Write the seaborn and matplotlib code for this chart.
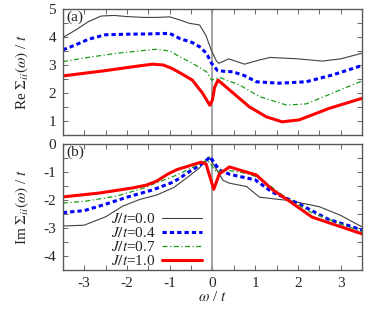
import matplotlib
matplotlib.use("Agg")
import matplotlib.pyplot as plt
import seaborn as sns
from matplotlib.ticker import MultipleLocator

# Re Sigma_ii(omega)/t
re_w_00 = [-3.5, -3.2, -2.9, -2.6, -2.3, -2.0, -1.6, -1.3, -1.0, -0.77, -0.54, -0.3, -0.15, -0.03, 0.09, 0.15, 0.38, 0.75, 1.1, 1.35, 2.0, 2.57, 3.0, 3.5]
re_v_00 = [3.98, 4.25, 4.55, 4.75, 4.77, 4.73, 4.70, 4.70, 4.72, 4.61, 4.49, 4.43, 4.05, 3.54, 3.15, 3.06, 3.22, 3.03, 3.18, 3.27, 3.22, 3.14, 3.22, 3.42]
re_w_04 = [-3.5, -3.2, -2.9, -2.5, -2.0, -1.5, -1.0, -0.77, -0.47, -0.3, -0.14, -0.02, 0.12, 0.3, 0.47, 0.75, 1.03, 1.56, 2.19, 2.8, 3.5]
re_v_04 = [3.54, 3.72, 3.92, 4.08, 4.10, 4.11, 4.13, 3.95, 3.80, 3.65, 3.42, 3.06, 2.80, 2.77, 2.76, 2.62, 2.40, 2.35, 2.40, 2.64, 2.98]
re_w_07 = [-3.5, -3.0, -2.24, -1.6, -1.31, -1.0, -0.77, -0.47, -0.14, -0.02, 0.16, 0.63, 1.10, 1.73, 2.19, 2.80, 3.5]
re_v_07 = [3.12, 3.25, 3.42, 3.52, 3.56, 3.50, 3.30, 3.06, 2.76, 2.46, 2.56, 2.29, 1.87, 1.57, 1.61, 1.99, 2.43]
re_w_10 = [-3.5, -2.5, -1.8, -1.4, -1.15, -0.95, -0.77, -0.47, -0.23, -0.06, 0.0, 0.05, 0.13, 0.4, 0.86, 1.26, 1.63, 2.03, 2.73, 3.5]
re_v_10 = [2.61, 2.80, 2.95, 3.03, 3.0, 2.88, 2.73, 2.46, 1.99, 1.56, 1.75, 2.2, 2.46, 2.11, 1.51, 1.15, 0.97, 1.04, 1.45, 1.81]

# Im Sigma_ii(omega)/t
im_w_00 = [-3.5, -3.0, -2.5, -2.1, -1.7, -1.3, -0.9, -0.55, -0.3, -0.08, 0.09, 0.25, 0.4, 0.8, 1.1, 1.5, 1.8, 2.5, 3.0, 3.5]
im_v_00 = [-2.93, -2.90, -2.60, -2.22, -1.98, -1.82, -1.55, -1.15, -0.85, -0.46, -0.9, -1.3, -1.40, -1.52, -1.90, -1.97, -2.02, -2.24, -2.55, -2.96]
im_w_04 = [-3.5, -3.0, -2.5, -2.0, -1.4, -0.9, -0.5, -0.2, -0.05, 0.16, 0.4, 1.0, 1.4, 2.0, 2.7, 3.5]
im_v_04 = [-2.45, -2.38, -2.15, -1.9, -1.64, -1.35, -0.95, -0.66, -0.46, -0.93, -1.08, -1.28, -1.72, -2.12, -2.68, -3.07]
im_w_07 = [-3.5, -3.0, -2.24, -1.7, -1.31, -0.9, -0.3, -0.12, 0.09, 0.33, 0.8, 1.1, 1.73, 2.33, 3.5]
im_v_07 = [-2.11, -2.05, -1.86, -1.62, -1.39, -1.15, -0.72, -0.57, -0.99, -0.93, -1.05, -1.21, -1.93, -2.46, -3.14]
im_w_10 = [-3.5, -2.64, -1.87, -1.55, -1.31, -1.05, -0.84, -0.27, -0.15, 0.03, 0.16, 0.40, 1.03, 1.41, 1.8, 2.33, 3.5]
im_v_10 = [-1.89, -1.75, -1.57, -1.47, -1.33, -1.08, -0.92, -0.65, -0.71, -1.62, -1.07, -0.82, -1.11, -1.64, -2.04, -2.61, -3.21]

labels = [r"$J/t$=0.0", r"$J/t$=0.4", r"$J/t$=0.7", r"$J/t$=1.0"]

styles = [
    dict(color="0.25", lw=0.8, ls="-"),
    dict(color="#0000ff", lw=2.2, ls=(0, (1.4, 1.0))),
    dict(color="#1a9a1a", lw=0.9, ls=(0, (4, 2, 1, 2))),
    dict(color="#ff0000", lw=2.2, ls="-"),
]

sns.set_style("ticks")
plt.rcParams["font.family"] = ["Liberation Serif", "DejaVu Serif"]
plt.rcParams["mathtext.fontset"] = "stix"

fig = plt.figure(figsize=(3.74, 3.16), dpi=100)
ax_re = fig.add_axes([0.168, 0.5728, 0.800, 0.3987])
ax_im = fig.add_axes([0.168, 0.1456, 0.800, 0.3987])

re_series = [(re_w_00, re_v_00), (re_w_04, re_v_04), (re_w_07, re_v_07), (re_w_10, re_v_10)]
im_series = [(im_w_00, im_v_00), (im_w_04, im_v_04), (im_w_07, im_v_07), (im_w_10, im_v_10)]

for ax in (ax_re, ax_im):
    ax.axvline(0, color="0.55", lw=1.1, zorder=1)

for (w, v), st in zip(re_series, styles):
    sns.lineplot(x=w, y=v, ax=ax_re, **st)
for (w, v), st, lab in zip(im_series, styles, labels):
    sns.lineplot(x=w, y=v, ax=ax_im, label=lab, **st)

ax_re.set_ylim(0.5, 5)
ax_im.set_ylim(-4.5, 0)
ax_re.set_yticks([1, 2, 3, 4, 5])
ax_im.set_yticks([0, -1, -2, -3, -4])

for ax in (ax_re, ax_im):
    ax.set_xlim(-3.5, 3.5)
    ax.set_xticks([-3, -2, -1, 0, 1, 2, 3])
    ax.xaxis.set_minor_locator(MultipleLocator(0.5))
    ax.yaxis.set_minor_locator(MultipleLocator(0.5))
    ax.tick_params(which="both", direction="in", top=True, right=True,
                   length=3.5, width=0.6, labelsize=11, color="0.3", pad=5)
    for sp in ax.spines.values():
        sp.set_color("0.35")
        sp.set_linewidth(1.0)

ax_re.set_xticklabels([])
ax_re.set_xlabel("")
ax_re.set_ylabel(r"Re $\mathit{\Sigma}_{ii}(\omega)$ / $t$", fontsize=11)
ax_im.set_ylabel(r"Im $\mathit{\Sigma}_{ii}(\omega)$ / $t$", fontsize=11)
ax_re.yaxis.set_label_coords(-0.105, 0.5)
ax_im.yaxis.set_label_coords(-0.105, 0.5)
ax_im.set_xlabel(r"$\omega$ / $t$", fontsize=11, labelpad=0)
ax_im.set_xticklabels(["-3", "-2", "-1", "0", "1", "2", "3"])
ax_im.set_yticklabels(["0", "-1", "-2", "-3", "-4"])

ax_re.text(0.012, 0.985, "(a)", transform=ax_re.transAxes, fontsize=11, va="top", ha="left")
ax_im.text(0.012, 0.985, "(b)", transform=ax_im.transAxes, fontsize=11, va="top", ha="left")

ax_im.legend(loc="lower right", bbox_to_anchor=(0.47, 0.0), frameon=False, markerfirst=False,
             fontsize=11, handlelength=2.6, handletextpad=0.45, labelspacing=0.0,
             borderpad=0.1, borderaxespad=0.0)

fig.savefig("out.png", dpi=100)
